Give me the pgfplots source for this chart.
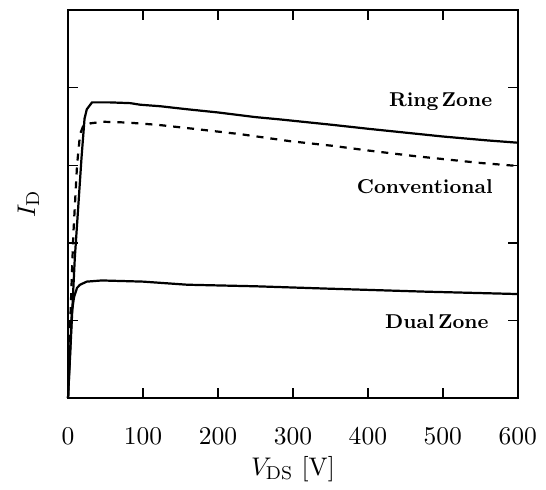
\documentclass[border=0pt]{standalone}
\usepackage{pgfplots}
\pgfplotsset{compat=1.18}

\begin{document}
\begin{tikzpicture}
\begin{axis}[
  scale only axis,
  width=193pt,
  height=166.5pt,
  xmin=0, xmax=600,
  ymin=0, ymax=5,
  xtick={0,100,...,600},
  ytick={1,2,3,4},
  yticklabels={},
  tick align=inside,
  tick pos=both,
  axis line style={semithick},
  tick style={semithick,black},
  tick label style={font=\fontsize{10.9}{13}\selectfont},
  label style={font=\fontsize{10.9}{13}\selectfont},
  xticklabel style={yshift=-9.5pt},
  xlabel={$V_{\mathrm{DS}}$ [V]},
  ylabel={$I_{\mathrm{D}}$},
  xlabel style={yshift=1.8pt},
  ylabel style={yshift=2pt},
  clip=false,
]
% Ring Zone
\addplot[black, line width=0.95pt] coordinates {
  (0,0) (9,1.8) (18,3.1) (22,3.6) (25,3.72) (32,3.81) (55,3.81) (83,3.80)
  (96,3.78) (123,3.76) (160,3.72) (200,3.68) (250,3.62) (283,3.59)
  (323,3.55) (353,3.52) (400,3.47) (460,3.41) (500,3.37) (559,3.32) (600,3.29)
};
% Conventional
\addplot[black, line width=0.95pt, dashed] coordinates {
  (0,0) (3,1.0) (7,2.1) (12,3.0) (16,3.4) (20,3.5) (30,3.54) (47,3.56)
  (79,3.55) (120,3.52) (167,3.47) (230,3.40) (296,3.31) (353,3.25)
  (400,3.19) (460,3.12) (549,3.03) (600,2.99)
};
% Dual Zone
\addplot[black, line width=0.95pt] coordinates {
  (0,0) (5,1.1) (8,1.3) (12,1.42) (16,1.46) (25,1.50) (45,1.515) (100,1.50)
  (159,1.46) (250,1.44) (345,1.41) (479,1.37) (600,1.34)
};
\node[font=\fontsize{8.6}{10}\selectfont\bfseries] at (axis cs:497,3.82) {Ring\,Zone};
\node[font=\fontsize{8.6}{10}\selectfont\bfseries] at (axis cs:476,2.73) {Conventional};
\node[font=\fontsize{8.6}{10}\selectfont\bfseries] at (axis cs:492,0.98) {Dual\,Zone};
\path (rel axis cs:0,0) ++(-29.2pt,-35.6pt) rectangle ++(234.3pt,206.4pt);
\end{axis}
\end{tikzpicture}
\end{document}
